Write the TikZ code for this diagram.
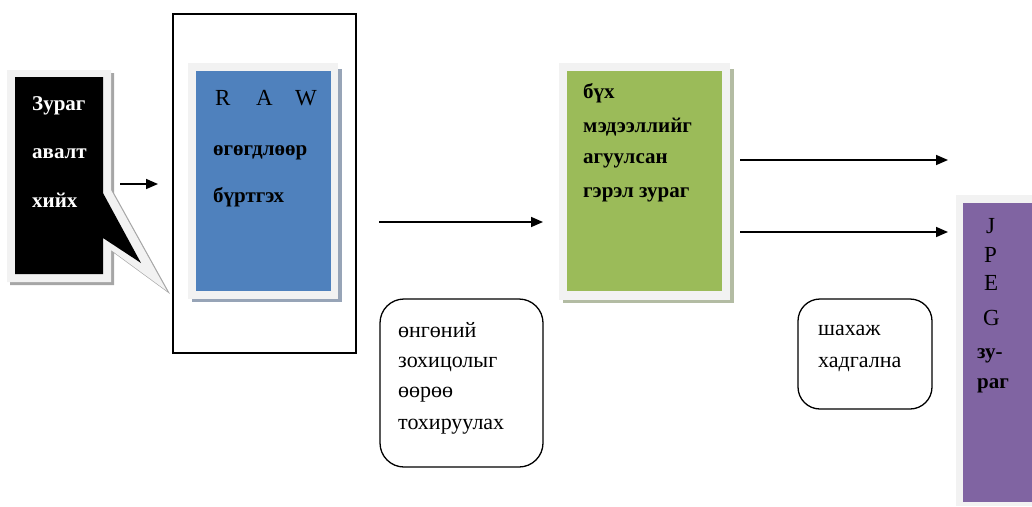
\documentclass[tikz,border=0pt]{standalone}
\usepackage{fontspec}
\setmainfont{Liberation Serif}
\usetikzlibrary{positioning,arrows.meta}
\definecolor{rawblue}{HTML}{4F81BD}
\definecolor{imggreen}{HTML}{9BBB59}
\definecolor{jpgpurple}{HTML}{8064A2}
\definecolor{paper}{HTML}{F2F2F2}
\definecolor{blueshade}{HTML}{97A4B7}
\definecolor{greenshade}{HTML}{B3BCA3}
\definecolor{greyshade}{HTML}{A6A6A6}

\begin{document}
\begin{tikzpicture}[
  x=1pt, y=-1pt,
  word/.style={anchor=base west, inner sep=0pt, font=\fontsize{22}{26}\selectfont},
  bword/.style={word, font=\fontsize{21}{25}\selectfont\bfseries},
  letter/.style={word, font=\fontsize{23}{26}\selectfont},
  panel/.style={anchor=north west, inner sep=0pt, outer sep=0pt},
  note/.style={panel, draw, line width=1.3pt, rounded corners=24pt},
  flow/.style={line width=1.6pt, -{Triangle[length=12pt, width=10pt]}}
]
  \useasboundingbox (0,0) rectangle (1032,506);

  % Camera callout
  \fill[greyshade] (10,73) -- (114,73) -- (114,193) -- (170,294) -- (114,253) -- (114,285) -- (10,285) -- cycle;
  \fill[paper] (7,70) -- (111,70) -- (111,190) -- (167,291) -- (111,250) -- (111,282) -- (7,282) -- cycle;
  \fill[black] (15,77) -- (103,77) -- (103,193) -- (141,263) -- (103,238) -- (103,274) -- (15,274) -- cycle;
  \node[bword, text=white] (cam1) at (32,110) {Зураг};
  \node[bword, text=white] (cam2) at (32,158) {авалт};
  \node[bword, text=white] (cam3) at (32,207) {хийх};

  % RAW card inside its frame
  \node[panel, draw, line width=2pt, minimum width=183pt, minimum height=339pt] (rawframe) at (173,14) {};
  \fill[blueshade] (192,69) rectangle (342,302);
  \fill[paper] (188,63) rectangle (338,299);
  \node[panel, fill=rawblue, minimum width=135pt, minimum height=220pt] (raw) at (196,71) {};
  \node[letter] (rawR) at (215,105) {R};
  \node[letter] (rawA) at (256,105) {A};
  \node[letter] (rawW) at (295,105) {W};
  \node[bword] (raw1) at (213,155) {өгөгдлөөр};
  \node[bword] (raw2) at (213,202) {бүртгэх};

  % Full picture card
  \fill[greenshade] (563,69) rectangle (734,303);
  \fill[paper] (559,63) rectangle (730,300);
  \node[panel, fill=imggreen, minimum width=155pt, minimum height=220pt] (full) at (567,71) {};
  \node[bword] (full1) at (583,98) {бүх};
  \node[bword] (full2) at (583,132) {мэдээллийг};
  \node[bword] (full3) at (583,163) {агуулсан};
  \node[bword] (full4) at (583,197) {гэрэл зураг};

  % JPEG card
  \fill[paper] (956,195) rectangle (1040,506);
  \node[panel, fill=jpgpurple, minimum width=80pt, minimum height=299pt] (jpeg) at (963,203) {};
  \node[letter] (jpgJ) at (986,233) {J};
  \node[letter] (jpgP) at (984,262) {P};
  \node[letter] (jpgE) at (984,290) {E};
  \node[letter] (jpgG) at (983,325) {G};
  \node[bword] (jpg1) at (977,358) {зу-};
  \node[bword] (jpg2) at (977,388) {раг};

  % Notes
  \node[note, minimum width=163pt, minimum height=168pt] (tune) at (380,299) {};
  \node[word] (tune1) at (398,337) {өнгөний};
  \node[word] (tune2) at (398,367) {зохицолыг};
  \node[word] (tune3) at (398,397) {өөрөө};
  \node[word] (tune4) at (398,429) {тохируулах};

  \node[note, rounded corners=22pt, minimum width=134pt, minimum height=110pt] (pack) at (798,299) {};
  \node[word] (pack1) at (818,335) {шахаж};
  \node[word] (pack2) at (818,367) {хадгална};

  % Arrows
  \coordinate (s1) at (120,184);  \coordinate (e1) at (158,184);
  \coordinate (s2) at (379,222);  \coordinate (e2) at (543,222);
  \coordinate (s3) at (740,160);  \coordinate (e3) at (948,160);
  \coordinate (s4) at (740,232);  \coordinate (e4) at (948,232);
  \draw[flow] (s1) -- (e1);
  \draw[flow] (s2) -- (e2);
  \draw[flow] (s3) -- (e3);
  \draw[flow] (s4) -- (e4);
\end{tikzpicture}
\end{document}
